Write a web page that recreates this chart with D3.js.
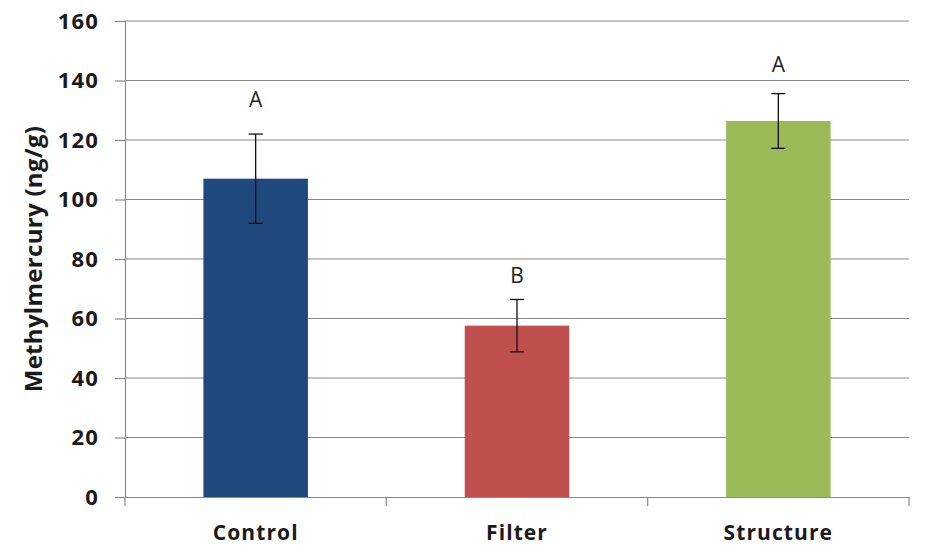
<!DOCTYPE html>
<html>
<head>
<meta charset="utf-8">
<script src="https://cdn.jsdelivr.net/npm/d3@7"></script>
<style>
  body { margin: 0; background: #fff; }
  svg { display: block; }
</style>
</head>
<body>
<script>
// Data
const categories = ['Control', 'Filter', 'Structure'];
const means = [107, 57.6, 126.4];
const errors = [15, 8.8, 9.2];
const letters = ['A', 'B', 'A'];
const letterValues = [131, 72, 143];
const colors = ['#1F497D', '#C0504D', '#9BBB59'];
const yTicks = [0, 20, 40, 60, 80, 100, 120, 140, 160];

// SVG setup
const width = 930;
const height = 546;
const margin = { top: 21, right: 21, bottom: 49, left: 125 };
const font = '"Open Sans", sans-serif';

const svg = d3.select('body')
.append('svg')
.attr('width', width)
.attr('height', height);

// Scales
const xScale = d3.scaleBand()
.domain(categories)
.range([margin.left, width - margin.right])
.paddingInner(0.6)
.paddingOuter(0.3);

const yScale = d3.scaleLinear()
.domain([0, 160])
.range([height - margin.bottom, margin.top]);

// Gridlines
svg.append('g')
.selectAll('line')
.data(yTicks.slice(1))
.enter()
.append('line')
.attr('x1', margin.left)
.attr('x2', width - margin.right)
.attr('y1', d => yScale(d))
.attr('y2', d => yScale(d))
.attr('stroke', '#8a8a8a')
.attr('stroke-width', 1.2);

// Y axis
const yAxis = svg.append('g')
.attr('transform', `translate(${margin.left},0)`)
.call(d3.axisLeft(yScale).tickValues(yTicks).tickSize(10).tickPadding(16));
yAxis.select('.domain').attr('stroke', '#8a8a8a').attr('stroke-width', 1.2);
yAxis.selectAll('.tick line').attr('stroke', '#8a8a8a').attr('stroke-width', 1.2);
yAxis.selectAll('.tick text')
.attr('font-family', font)
.attr('font-weight', 'bold')
.attr('font-size', '22px')
.attr('letter-spacing', '1.2px')
.attr('fill', '#1a1a1a');

// X axis
const xAxis = svg.append('g')
.attr('transform', `translate(0,${yScale(0)})`)
.call(d3.axisBottom(xScale).tickSize(0).tickPadding(0));
xAxis.select('.domain').attr('stroke', '#8a8a8a').attr('stroke-width', 1.2);
xAxis.selectAll('.tick text')
.attr('y', 43)
.attr('dy', null)
.attr('font-family', font)
.attr('font-weight', 'bold')
.attr('font-size', '21px')
.attr('letter-spacing', '1.1px')
.attr('fill', '#1a1a1a');

// Category boundary ticks
const boundaries = d3.range(categories.length + 1)
.map(i => margin.left + i * (width - margin.right - margin.left) / categories.length);
svg.append('g')
.selectAll('line')
.data(boundaries)
.enter()
.append('line')
.attr('x1', d => d)
.attr('x2', d => d)
.attr('y1', yScale(0))
.attr('y2', yScale(0) + 9)
.attr('stroke', '#8a8a8a')
.attr('stroke-width', 1.2);

// Bars
svg.selectAll('rect.bar')
.data(means)
.enter()
.append('rect')
.attr('class', 'bar')
.attr('x', (d, i) => xScale(categories[i]))
.attr('y', d => yScale(d))
.attr('width', xScale.bandwidth())
.attr('height', d => yScale(0) - yScale(d))
.attr('fill', (d, i) => colors[i]);

// Error bars
const errG = svg.append('g').attr('stroke', '#111').attr('stroke-width', 1.3);
means.forEach((m, i) => {
    const cx = xScale(categories[i]) + xScale.bandwidth() / 2;
    const top = yScale(m + errors[i]);
    const bottom = yScale(m - errors[i]);
    errG.append('line').attr('x1', cx).attr('x2', cx).attr('y1', top).attr('y2', bottom);
    errG.append('line').attr('x1', cx - 7).attr('x2', cx + 7).attr('y1', top).attr('y2', top);
    errG.append('line').attr('x1', cx - 7).attr('x2', cx + 7).attr('y1', bottom).attr('y2', bottom);
});

// Significance letters
svg.selectAll('text.letter')
.data(letters)
.enter()
.append('text')
.attr('class', 'letter')
.text(d => d)
.attr('x', (d, i) => xScale(categories[i]) + xScale.bandwidth() / 2)
.attr('y', (d, i) => yScale(letterValues[i]))
.attr('font-family', font)
.attr('font-size', '21px')
.attr('fill', '#222')
.attr('text-anchor', 'middle');

// Y axis title
svg.append('text')
.text('Methylmercury (ng/g)')
.attr('transform', `translate(42,${yScale(80)}) rotate(-90)`)
.attr('font-family', font)
.attr('font-weight', 'bold')
.attr('font-size', '24px')
.attr('letter-spacing', '0.3px')
.attr('fill', '#1a1a1a')
.attr('text-anchor', 'middle');
</script>
</body>
</html>
